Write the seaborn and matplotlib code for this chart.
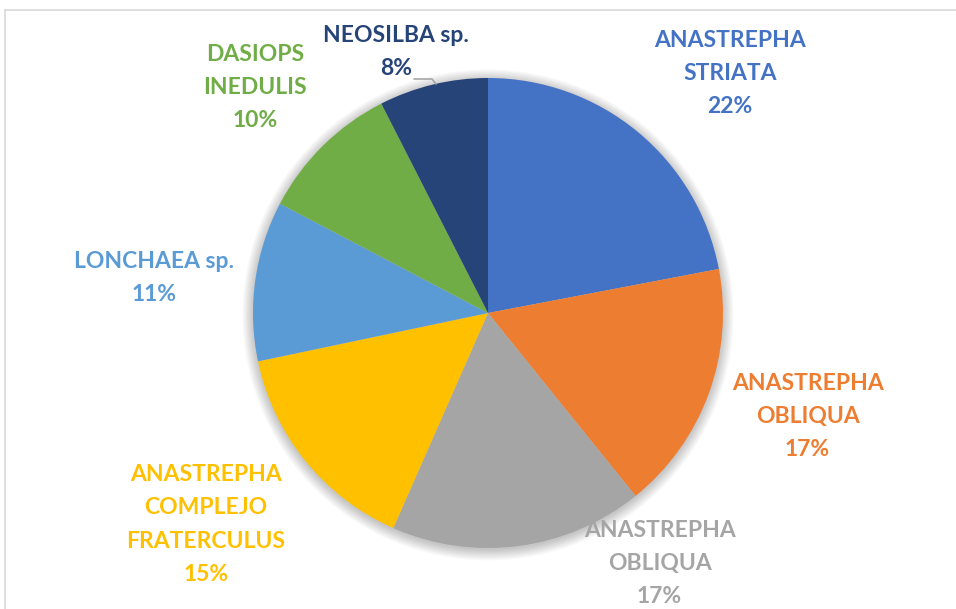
import numpy as np
import seaborn as sns
import matplotlib.pyplot as plt

species = ['ANASTREPHA\nSTRIATA', 'ANASTREPHA\nOBLIQUA', 'ANASTREPHA\nOBLIQUA',
           'ANASTREPHA\nCOMPLEJO\nFRATERCULUS', 'LONCHAEA sp.', 'DASIOPS\nINEDULIS',
           'NEOSILBA sp.']
shares = [22.0, 17.2, 17.4, 15.1, 11.0, 9.8, 7.5]   # slice sizes
pct_labels = [22, 17, 17, 15, 11, 10, 8]             # percentages as printed
colors = ['#4472C4', '#ED7D31', '#A5A5A5', '#FFC000', '#5B9BD5', '#70AD47', '#264478']

# label centres in pie-radius units
label_x = [1.03, 1.36, 0.73, -1.20, -1.42, -0.99, -0.39]
label_y = [1.02, -0.44, -1.065, -0.90, 0.15, 0.96, 1.11]

sns.set_theme(style='white')
plt.rcParams['font.family'] = ['Lato', 'DejaVu Sans']

fig = plt.figure(figsize=(9.56, 6.09), dpi=100)
ax = fig.add_axes([0, 0, 1, 1])

r = 235.0
cx, cy = 488, 313

# soft shadow under the pie
for i in range(10):
    ax.add_patch(plt.Circle((0.0, -0.008), 1.0 + i * 0.005, color='black',
                            alpha=0.022, lw=0, zorder=0))

ax.pie(shares, colors=colors, startangle=90, counterclock=False, radius=1.0,
       center=(0, 0), wedgeprops=dict(linewidth=0), frame=True)
ax.set_xlim(-cx / r, (956 - cx) / r)
ax.set_ylim(-(609 - cy) / r, cy / r)
ax.set_aspect('equal')
ax.axis('off')

for name, val, c, lx, ly in zip(species, pct_labels, colors, label_x, label_y):
    ax.text(lx, ly, f'{name}\n{val}%', color=c, ha='center', va='center',
            fontsize=16.5, fontweight='bold', linespacing=1.72, zorder=5)

# leader line for NEOSILBA
ax.plot([(414 - cx) / r, (432 - cx) / r, (436 - cx) / r],
        [(cy - 79) / r, (cy - 79) / r, (cy - 84) / r], color='#A6A6A6', lw=1.2)

# chart border
fig.add_artist(plt.Line2D([5 / 956, 1], [1 - 10 / 609, 1 - 10 / 609], color='#D9D9D9', lw=1.2))
fig.add_artist(plt.Line2D([5 / 956, 5 / 956], [0, 1 - 10 / 609], color='#D9D9D9', lw=1.2))

fig.savefig('out.png', dpi=100, facecolor='white')
